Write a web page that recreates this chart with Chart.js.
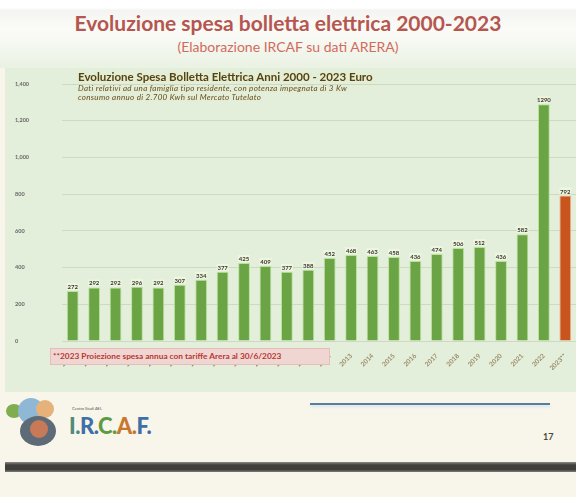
<!DOCTYPE html>
<html>
<head>
  <title>Evoluzione spesa bolletta elettrica 2000-2023</title>
  <script src="https://cdn.jsdelivr.net/npm/chart.js"></script>
  <style>
    body {
      margin: 0;
      width: 576px;
      height: 497px;
      overflow: hidden;
      font-family: Lato, "Open Sans", sans-serif;
      background: #f8f5ea;
      position: relative;
    }
    #top {
      position: absolute; left: 0; top: 0; width: 576px; height: 68px;
      background: linear-gradient(#ffffff 0px, #ffffff 8px, #f4f4f2 10px, #fbfbf8 30px, #eaf2e3 68px);
    }
    #title {
      position: absolute; left: 0; width: 576px; top: 10px;
      text-align: center; font-weight: bold; font-size: 21px; color: #b5564f;
    }
    #subtitle {
      position: absolute; left: 0; width: 576px; top: 38px;
      text-align: center; font-size: 14px; color: #d36a5e;
    }
    #panel {
      position: absolute; left: 5px; top: 68px; width: 571px; height: 324px;
      background: #e3eedb;
    }
    #chartBox {
      position: absolute; left: 0; top: 70px; width: 576px; height: 300px;
    }
    #chartTitle {
      position: absolute; left: 78px; top: 70px;
      font-weight: bold; font-size: 11.5px; color: #4e4420;
      text-shadow: 0 0 3px #f6e9a8;
    }
    #chartNote {
      position: absolute; left: 78px; top: 84px;
      font-style: italic; font-size: 8px; line-height: 8.5px; color: #5e5030;
      letter-spacing: 0.3px;
      text-shadow: 0 0 2px #f3e4a6;
    }
    #footnote {
      position: absolute; left: 50px; top: 348px; width: 280px; height: 17px;
      background: #f0d6d3; border: 1px solid #e8bcb8;
      font-weight: bold; font-size: 8.3px; line-height: 15px; color: #b8362e;
      padding-left: 2px; box-sizing: border-box;
    }
    #blueLine {
      position: absolute; left: 310px; top: 403px; width: 240px; height: 2px;
      background: #5a7d9c; box-shadow: 0 2px 3px #cfe4f0;
    }
    #pageNum {
      position: absolute; left: 543px; top: 431px; font-size: 9px; font-weight: bold; color: #4a4a3a;
    }
    #darkBar {
      position: absolute; left: 5px; top: 462px; width: 571px; height: 10px;
      background: linear-gradient(#8a8a86, #3f403c 30%, #3f403c 75%, #7d7d78);
    }
    #logoText {
      position: absolute; left: 69px; top: 412px; font-weight: 900; font-size: 22px; letter-spacing: -0.5px;
    }
    #logoSmall {
      position: absolute; left: 72px; top: 406px; font-size: 4px; color: #555;
    }
    .dot { position: absolute; border-radius: 50%; }
  </style>
</head>
<body>
  <div id="top"></div>
  <div id="title">Evoluzione spesa bolletta elettrica 2000-2023</div>
  <div id="subtitle">(Elaborazione IRCAF su dati ARERA)</div>
  <div id="panel"></div>
  <div id="chartBox"><canvas id="chart" width="576" height="300"></canvas></div>
  <div id="chartTitle">Evoluzione Spesa Bolletta Elettrica Anni 2000 - 2023 Euro</div>
  <div id="chartNote">Dati relativi ad una famiglia tipo residente, con potenza impegnata di 3 Kw<br>consumo annuo di 2.700 Kwh sul Mercato Tutelato</div>
  <div id="footnote">**2023 Proiezione spesa annua con tariffe Arera al 30/6/2023</div>

  <!-- footer -->
  <div class="dot" style="left:6px;top:404px;width:16px;height:14px;background:#7fae4e;"></div>
  <div class="dot" style="left:18px;top:398px;width:26px;height:26px;background:#8fb7d6;"></div>
  <div class="dot" style="left:36px;top:400px;width:18px;height:18px;background:#e6b27a;"></div>
  <div class="dot" style="left:20px;top:416px;width:36px;height:30px;background:#5d6b78;"></div>
  <div class="dot" style="left:30px;top:420px;width:18px;height:18px;background:#c87a58;"></div>
  <div id="logoSmall">Centro Studi AEL</div>
  <div id="logoText"><span style="color:#4d8c7a">I.</span><span style="color:#3f6fa6">R.</span><span style="color:#5e9a45">C.</span><span style="color:#c8772e">A.</span><span style="color:#3f6fa6">F.</span></div>
  <div id="blueLine"></div>
  <div id="pageNum">17</div>
  <div id="darkBar"></div>

  <script>
    // Values (euro per year)
    const years = ["2000", "2001", "2002", "2003", "2004", "2005", "2006", "2007", "2008", "2009",
      "2010", "2011", "2012", "2013", "2014", "2015", "2016", "2017", "2018", "2019",
      "2020", "2021", "2022", "2023**"];
    const spesa = [272, 292, 292, 296, 292, 307, 334, 377, 425, 409,
      377, 388, 452, 468, 463, 458, 436, 474, 506, 512,
      436, 582, 1290, 792];
    const yTicks = [0, 200, 400, 600, 800, 1000, 1200, 1400];

    const barColors = spesa.map((v, i) => i === spesa.length - 1 ? "#c9541d" : "#6aa444");
    const barBorders = spesa.map((v, i) => i === spesa.length - 1 ? "#f0b48a" : "#b9e39a");

    // value labels above the bars
    const valueLabels = {
      id: "valueLabels",
      afterDatasetsDraw(chart) {
        const ctx = chart.ctx;
        const meta = chart.getDatasetMeta(0);
        ctx.save();
        ctx.font = "bold 6px Lato, sans-serif";
        ctx.textAlign = "center";
        ctx.textBaseline = "bottom";
        meta.data.forEach((bar, i) => {
          ctx.fillStyle = "rgba(240,248,228,0.8)";
          ctx.fillRect(bar.x - 6, bar.y - 8, 12, 7);
          ctx.fillStyle = "#3a3a28";
          ctx.fillText(spesa[i], bar.x, bar.y - 1);
        });
        ctx.restore();
      }
    };

    const ctx = document.getElementById("chart").getContext("2d");
    new Chart(ctx, {
      type: "bar",
      data: {
        labels: years,
        datasets: [{
          label: "Spesa annua",
          data: spesa,
          backgroundColor: barColors,
          borderColor: barBorders,
          borderWidth: 1,
          barPercentage: 0.55,
          categoryPercentage: 1.0,
        }],
      },
      options: {
        responsive: false,
        animation: false,
        layout: { padding: { left: 15, top: 14, right: 0, bottom: 0 } },
        plugins: {
          legend: { display: false },
          tooltip: { enabled: false },
        },
        scales: {
          x: {
            grid: { display: false },
            border: { display: false },
            ticks: {
              minRotation: 45,
              maxRotation: 45,
              autoSkip: false,
              font: { size: 6.5, family: "Lato", weight: "bold" },
              color: "#9a8c68",
              padding: 3,
            },
            afterFit: (scale) => { scale.height = 29; },
          },
          y: {
            min: 0,
            max: 1400,
            afterBuildTicks: (scale) => { scale.ticks = yTicks.map((v) => ({ value: v })); },
            grid: { color: "rgba(200,215,190,0.9)", drawTicks: false },
            border: { display: false },
            ticks: {
              crossAlign: "far",
              font: { size: 5.5, family: "Lato", weight: "bold" },
              color: "#666",
              padding: 4,
            },
            afterFit: (scale) => { scale.width = 47; },
          },
        },
      },
      plugins: [valueLabels],
    });
  </script>
</body>
</html>
